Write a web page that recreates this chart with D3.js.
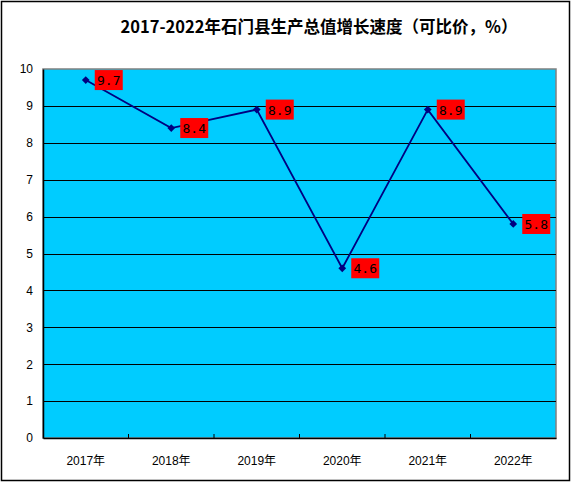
<!DOCTYPE html>
<html><head><meta charset="utf-8">
<script src="https://cdn.jsdelivr.net/npm/d3@7"></script>
<style>body{margin:0;background:#fff}svg{display:block}</style>
</head><body>
<script>
const categories = ["2017年","2018年","2019年","2020年","2021年","2022年"];
const values = [9.7, 8.4, 8.9, 4.6, 8.9, 5.8];
const yTicks = [0,1,2,3,4,5,6,7,8,9,10];
const title = "2017-2022年石门县生产总值增长速度（可比价，%）";

const W = 572, H = 482;
const m = {left:43, top:69, right:556, bottom:438};
const svg = d3.select("body").append("svg").attr("width", W).attr("height", H);
svg.append("rect").attr("x",1.5).attr("y",1.5).attr("width",W-4).attr("height",H-3)
  .attr("fill","#fff").attr("stroke","#000").attr("stroke-width",1.5);

const x = d3.scaleBand().domain(categories).range([m.left, m.right]);
const y = d3.scaleLinear().domain([0,10]).range([m.bottom, m.top]);

svg.append("rect").attr("x",m.left).attr("y",m.top).attr("width",m.right-m.left).attr("height",m.bottom-m.top)
  .attr("fill","#00CCFF").attr("stroke","#808080").attr("stroke-width",1.5);

svg.append("g").selectAll("line").data(yTicks.filter(d=>d>0&&d<10)).join("line")
  .attr("x1",m.left).attr("x2",m.right).attr("y1",d=>Math.round(y(d))+0.5).attr("y2",d=>Math.round(y(d))+0.5)
  .attr("stroke","#000").attr("stroke-width",1.2);

// axes
const yAxis = svg.append("g").attr("transform",`translate(${m.left},0)`)
  .call(d3.axisLeft(y).tickValues(yTicks).tickSize(0).tickPadding(10).tickFormat(d3.format("d")));
yAxis.select(".domain").attr("stroke","#000").attr("stroke-width",1.5);
yAxis.selectAll("text").attr("font-family","Liberation Sans, Arial, sans-serif").attr("font-size",12).attr("fill","#000");

const xAxis = svg.append("g").attr("transform",`translate(0,${m.bottom})`)
  .call(d3.axisBottom(x).tickSize(0).tickPadding(18));
xAxis.select(".domain").attr("stroke","#000").attr("stroke-width",1.5);
xAxis.selectAll("text").attr("font-family","Liberation Sans, 'Noto Sans CJK SC', sans-serif").attr("font-size",12).attr("fill","#000");
// inner tick marks at band boundaries
svg.append("g").selectAll("line").data(categories.slice(1)).join("line")
  .attr("x1",d=>x(d)).attr("x2",d=>x(d)).attr("y1",m.bottom).attr("y2",m.bottom-4)
  .attr("stroke","#000").attr("stroke-width",1);

const cx = d => x(d) + x.bandwidth()/2;
const pts = categories.map((c,i)=>[cx(c), y(values[i])]);
svg.append("path").attr("d", d3.line()(pts)).attr("fill","none").attr("stroke","#000080").attr("stroke-width",1.8);
svg.append("g").selectAll("path").data(pts).join("path")
  .attr("transform",d=>`translate(${d[0]},${d[1]}) rotate(45)`)
  .attr("d", d3.symbol().type(d3.symbolSquare).size(30)).attr("fill","#000080");

const lab = svg.append("g").selectAll("g").data(pts).join("g")
  .attr("transform",d=>`translate(${d[0]+9},${d[1]-10})`);
lab.append("rect").attr("width",28).attr("height",20).attr("fill","#FF0000");
lab.append("text").attr("x",14).attr("y",15).attr("text-anchor","middle")
  .attr("font-family","DejaVu Sans Mono, monospace").attr("font-size",13).attr("fill","#000")
  .text((d,i)=>values[i].toFixed(1));

svg.append("text").attr("x",319).attr("y",33).attr("text-anchor","middle")
  .attr("font-family","'Noto Sans CJK SC', sans-serif").attr("font-weight","bold").attr("font-size",16.5)
  .attr("fill","#000").text(title);
</script>
</body></html>
